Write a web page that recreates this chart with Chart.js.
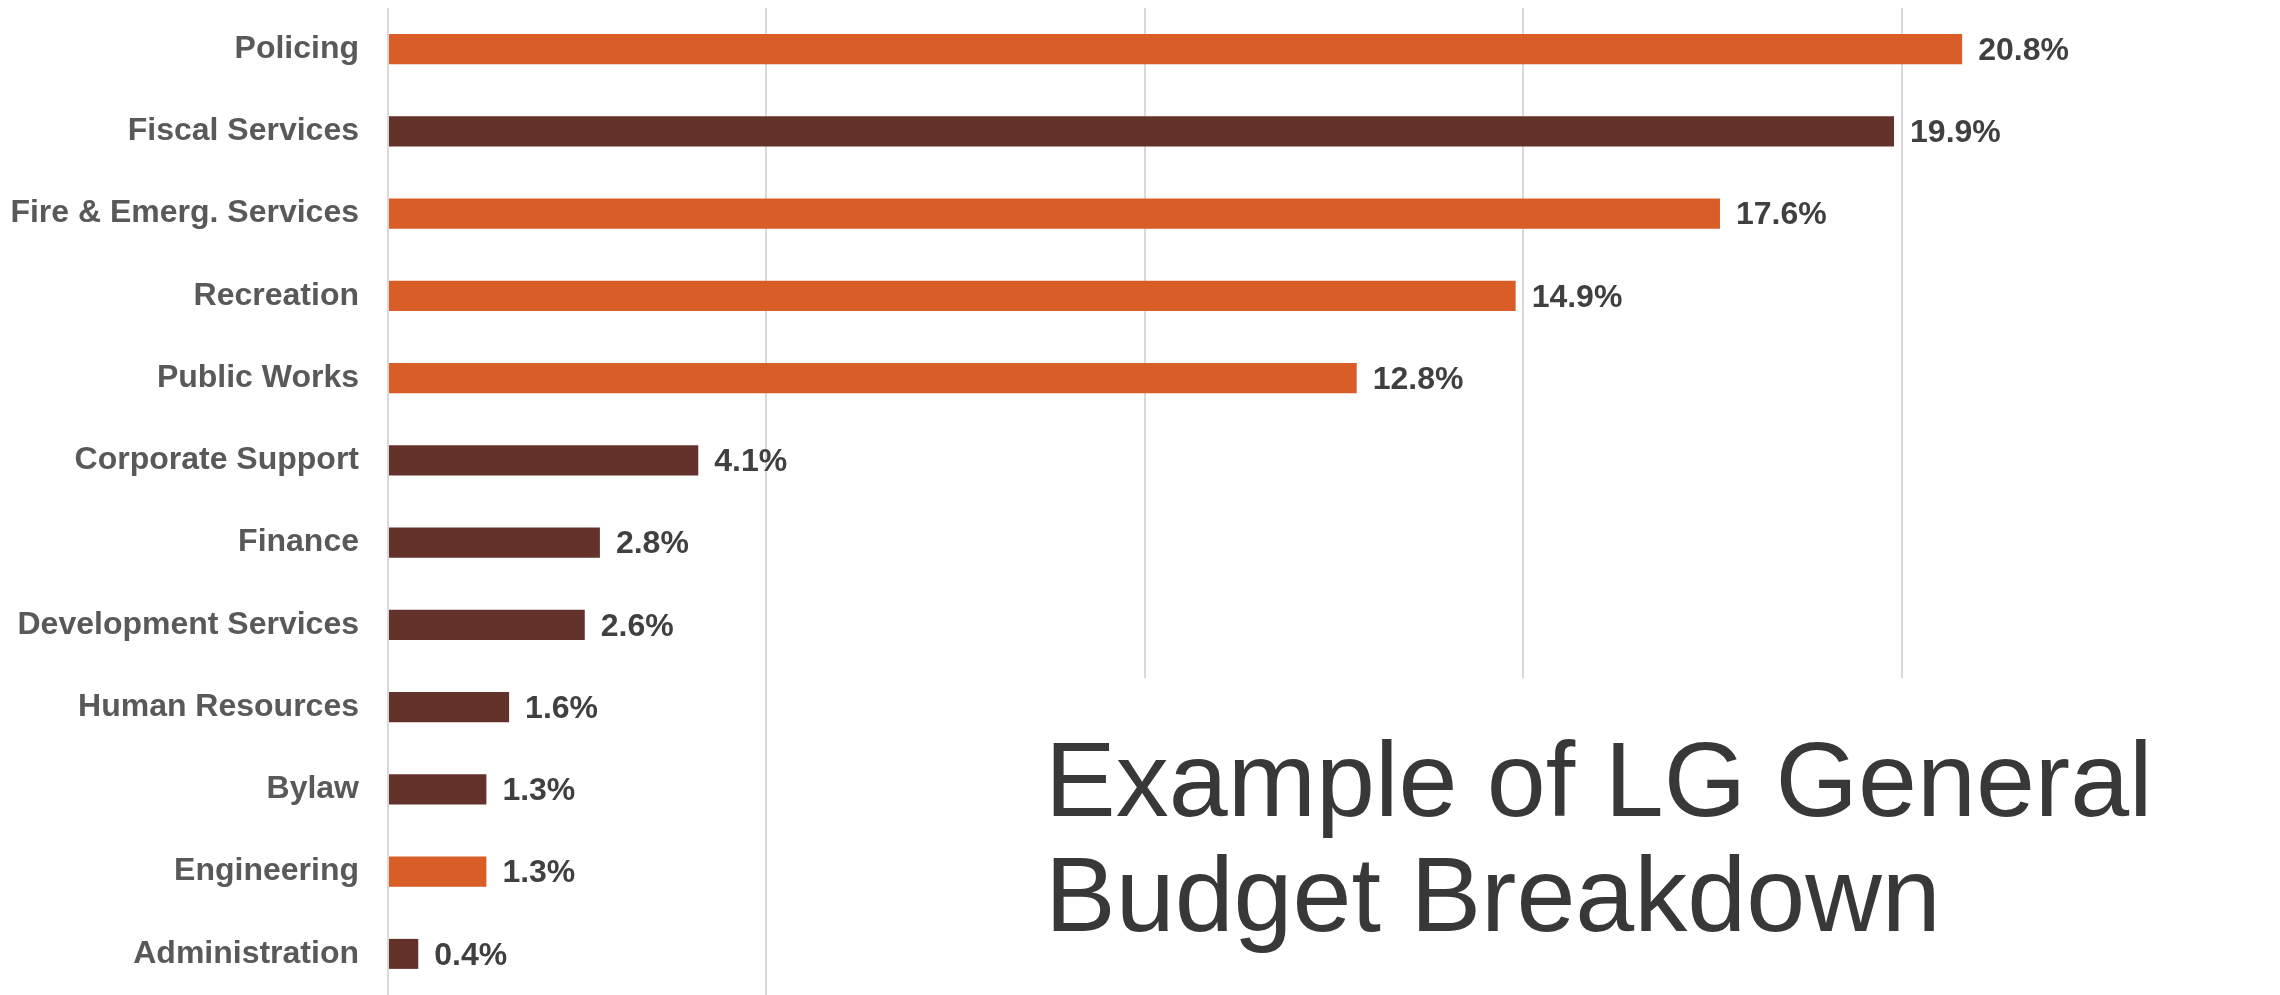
<!DOCTYPE html>
<html>
<head>
<meta charset="utf-8">
<script src="https://cdn.jsdelivr.net/npm/chart.js@4"></script>
<style>
  body { margin: 0; background: #fff; }
  #wrap { position: relative; width: 2280px; height: 995px; }
  #title_box {
    position: absolute; left: 1030px; top: 678px; width: 1250px; height: 317px;
    background: #fff; box-sizing: border-box; padding: 44px 0 0 15px;
    font-family: "Liberation Sans", Arial, sans-serif; font-size: 106px;
    line-height: 115px; color: #383838; white-space: nowrap;
  }
</style>
</head>
<body>
<div id="wrap">
  <canvas id="budget_chart" width="2280" height="995"></canvas>
  <div id="title_box">Example of LG General<br>Budget Breakdown</div>
</div>
<script>
const departments = ["Policing", "Fiscal Services", "Fire & Emerg. Services", "Recreation",
  "Public Works", "Corporate Support", "Finance", "Development Services",
  "Human Resources", "Bylaw", "Engineering", "Administration"];
const sharePct = [20.8, 19.9, 17.6, 14.9, 12.8, 4.1, 2.8, 2.6, 1.6, 1.3, 1.3, 0.4];
const xTicks = [0, 5, 10, 15, 20, 25];

const orange = "#d95d27";
const brown = "#63322a";
const barColors = [orange, brown, orange, orange, orange, brown, brown, brown, brown, brown, orange, brown];

const fontFamily = '"Liberation Sans", Arial, sans-serif';

// value labels at the end of each bar
const valueLabels = {
  id: "valueLabels",
  afterDatasetsDraw(chart) {
    const ctx = chart.ctx;
    const meta = chart.getDatasetMeta(0);
    ctx.save();
    ctx.font = "bold 32px " + fontFamily;
    ctx.fillStyle = "#404040";
    ctx.textAlign = "left";
    ctx.textBaseline = "middle";
    meta.data.forEach(function (bar, i) {
      ctx.fillText(sharePct[i].toFixed(1) + "%", bar.x + 16, bar.y + 2);
    });
    ctx.restore();
  }
};

new Chart("budget_chart", {
  type: "bar",
  data: {
    labels: departments,
    datasets: [{
      data: sharePct,
      backgroundColor: barColors,
      categoryPercentage: 1,
      barPercentage: 0.365
    }]
  },
  options: {
    indexAxis: "y",
    responsive: false,
    animation: false,
    layout: { padding: { top: 8, left: 0, right: 0, bottom: 0 } },
    plugins: {
      legend: { display: false },
      tooltip: { enabled: false }
    },
    scales: {
      x: {
        min: xTicks[0],
        max: xTicks[xTicks.length - 1],
        afterBuildTicks: function (scale) {
          scale.ticks = xTicks.map(function (v) { return { value: v }; });
        },
        afterFit: function (scale) {
          scale.height = 0;
          scale.paddingLeft = 0;
          scale.paddingRight = 0;
        },
        ticks: { display: false },
        border: { display: false },
        grid: {
          drawTicks: false,
          lineWidth: 2,
          color: function (c) { return c.tick && c.tick.value === 25 ? "rgba(0,0,0,0)" : "#d9d9d9"; }
        }
      },
      y: {
        grid: { display: false, drawTicks: false },
        border: { display: false },
        afterFit: function (scale) {
          scale.width = 388;
          scale.paddingTop = 0;
          scale.paddingBottom = 0;
        },
        ticks: {
          padding: 29,
          color: "#595959",
          font: { family: fontFamily, size: 32, weight: "bold" }
        }
      }
    }
  },
  plugins: [valueLabels]
});
</script>
</body>
</html>
